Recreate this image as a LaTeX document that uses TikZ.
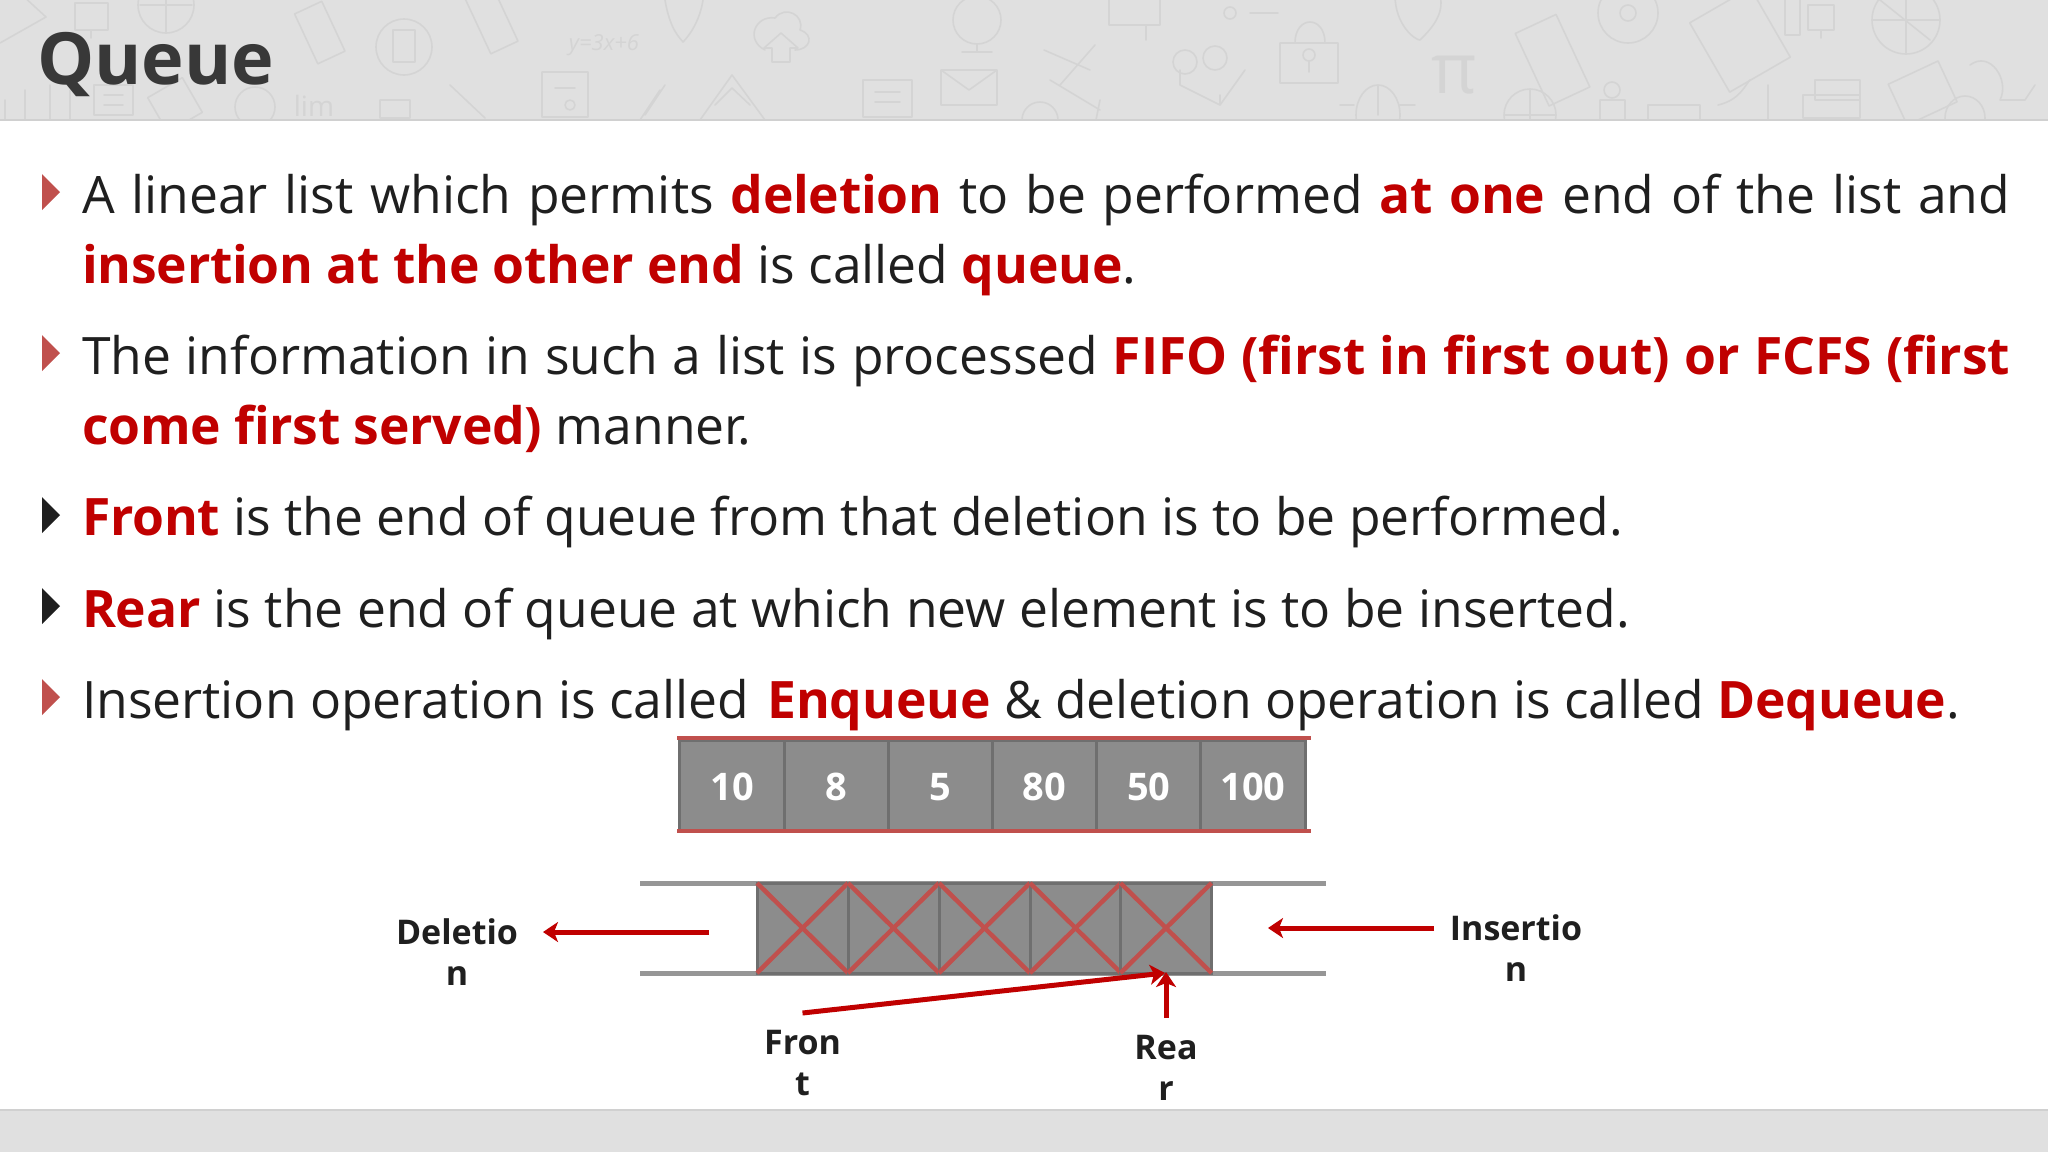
\documentclass[tikz,border=0pt]{standalone}
\usepackage{fontspec}
\setmainfont[BoldFeatures={LetterSpace=-0.4}]{Open Sans}
\newfontfamily\labfont{Open Sans}
\usetikzlibrary{arrows.meta}
\definecolor{hdr}{HTML}{E0E0E0}
\definecolor{hline}{HTML}{D0D0D0}
\definecolor{ink}{HTML}{1F1F1F}
\definecolor{ttl}{HTML}{383838}
\definecolor{rd}{HTML}{C00000}
\definecolor{softred}{HTML}{C0504D}
\definecolor{cell}{HTML}{8C8C8C}
\definecolor{celledge}{HTML}{6F6F6F}
\definecolor{rail}{HTML}{969696}
\definecolor{doodle}{HTML}{D4D4D4}
\newcommand{\rt}[1]{\textbf{\textcolor{rd}{#1}}}
\newcommand{\bodyfont}{\fontsize{51.6}{60}\selectfont}
\tikzset{
  x=1pt,y=-1pt,
  bodytext/.style={anchor=base west,inner sep=0pt,outer sep=0pt,text=ink,font=\bodyfont},
  bulletred/.style={fill=softred,draw=none},
  bulletdark/.style={fill=ink,draw=none},
  cellbox/.style={draw=celledge,line width=3pt,fill=cell,minimum width=104.2pt,minimum height=90pt,inner sep=0pt,outer sep=0pt,text=white,text height=30pt,text depth=0pt,font=\labfont\bfseries\fontsize{38}{40}\selectfont},
  xcell/.style={draw=celledge,line width=3pt,fill=cell,minimum width=91pt,minimum height=90pt,inner sep=0pt,outer sep=0pt},
  railline/.style={draw=rail,line width=5pt},
  redbar/.style={draw=softred,line width=4.5pt},
  crossline/.style={draw=softred,line width=4.5pt},
  arrowline/.style={draw=rd,line width=5pt,-{Stealth[length=15pt,width=20pt,inset=4pt]}},
  lab/.style={align=center,inner sep=0pt,outer sep=0pt,anchor=base,text=ink,font=\labfont\bfseries\fontsize{34}{41}\selectfont},
  dood/.style={draw=doodle,line width=1.6pt,line join=round,line cap=round},
  doodtext/.style={text=doodle,inner sep=0pt},
}
\begin{document}
\begin{tikzpicture}
\useasboundingbox (0,0) rectangle (2048,1152);
\fill[white] (0,0) rectangle (2048,1152);
% header and footer bands
\fill[hdr] (0,0) rectangle (2048,120);
% faint doodles of the header
\begin{scope}
\clip (0,0) rectangle (2048,119);
\draw[dood] (0,43) -- (46,17) -- (22,-5);
\draw[dood] (75,3) rectangle (108,30) (91,30) -- (91,38);
\draw[dood] (166,5) circle (28) (140,5) -- (192,5) (166,-23) -- (166,33);
\draw[dood,rotate around={25:(320,33)}] (305,5) rectangle (335,60);
\draw[dood] (404,47) circle (28); \draw[dood] (393,30) rectangle (415,62);
\draw[dood,rotate around={25:(493,23)}] (478,-12) rectangle (508,50);
\node[doodtext,font=\itshape\fontsize{22}{22}\selectfont] (eq) at (604,45) {y=3x+6};
\draw[dood] (665,0) .. controls (670,30) and (680,38) .. (683,42) .. controls (690,35) and (700,20) .. (703,0);
\draw[dood] (765,50) .. controls (745,40) and (755,15) .. (775,18) .. controls (785,5) and (805,15) .. (800,30) .. controls (815,35) and (810,50) .. (795,50);
\draw[dood] (772,62) -- (772,48) -- (764,48) -- (781,33) -- (798,48) -- (790,48) -- (790,62) -- cycle;
\draw[dood] (977,20) circle (24) (977,44) -- (977,52) (962,52) -- (992,52);
\draw[dood] (941,70) rectangle (997,105) (941,70) -- (969,90) -- (997,70);
\draw[dood] (863,80) rectangle (912,117) (875,92) -- (900,92) (875,102) -- (900,102);
\draw[dood] (542,72) rectangle (588,117) (555,88) -- (575,88) (570,105) circle (5);
\draw[dood] (700,120) -- (732,75) -- (765,120) (715,105) -- (732,88) -- (750,105);
\draw[dood] (94,85) rectangle (133,115) (104,95) -- (123,95) (104,105) -- (123,105);
\draw[dood] (255,107) circle (20);
\node[doodtext,font=\fontsize{28}{28}\selectfont] (lim) at (314,106) {lim};
\draw[dood] (5,120) -- (5,100) (25,120) -- (25,90) (50,120) -- (50,85) (70,120) -- (70,90);
\draw[dood,rotate around={30:(175,105)}] (155,85) rectangle (195,125);
\draw[dood] (380,100) rectangle (410,118) (450,85) -- (485,118);
\draw[dood] (640,120) -- (660,90) (665,85) -- (645,115);
% right half
\draw[dood] (1109,-5) -- (1109,25) -- (1160,25) -- (1160,-5) (1146,25) -- (1146,40);
\draw[dood] (1230,13) circle (6) (1250,13) -- (1278,13);
\draw[dood] (1044,50) -- (1090,70) (1095,45) -- (1060,85) (1100,100) -- (1090,150);
\draw[dood] (1280,83) rectangle (1338,43) (1295,43) .. controls (1295,15) and (1325,15) .. (1325,43) (1309,55) circle (6) (1309,61) -- (1309,72);
\draw[dood] (1185,62) circle (12) (1215,58) circle (12) (1180,85) -- (1220,105) -- (1245,70) (1180,85) -- (1180,70) (1220,105) -- (1220,95);
\node[doodtext,font=\fontsize{70}{70}\selectfont] (pi) at (1454,75) {π};
\draw[dood] (1378,115) ellipse (22 and 30) (1354,105) -- (1340,105) (1400,105) -- (1415,105) (1378,85) -- (1378,115);
\draw[dood] (1395,-5) .. controls (1395,25) and (1415,40) .. (1420,40) .. controls (1430,30) and (1445,15) .. (1440,-5);
\draw[dood,rotate around={25:(1553,60)}] (1530,20) rectangle (1575,100);
\draw[dood] (1628,13) circle (30) (1628,13) circle (8);
\draw[dood,rotate around={30:(1740,40)}] (1705,0) rectangle (1775,80);
\draw[dood] (1785,-5) rectangle (1800,35) (1808,5) rectangle (1834,30) (1821,30) -- (1821,38);
\draw[dood] (1906,20) circle (34) (1872,20) -- (1940,20) (1906,-14) -- (1906,54) (1880,0) -- (1930,40);
\draw[dood] (1530,115) circle (26) (1504,115) -- (1556,115) (1530,89) -- (1530,141);
\draw[dood] (1600,120) -- (1600,100) -- (1625,100) -- (1625,120) (1612,90) circle (8);
\draw[dood] (1648,120) -- (1648,105) -- (1700,105) -- (1700,120);
\draw[dood] (1718,105) .. controls (1740,100) and (1745,85) .. (1750,80) (1768,85) -- (1768,120);
\draw[dood] (1803,95) rectangle (1860,118) (1815,80) rectangle (1860,100);
\draw[dood,rotate around={25:(1935,90)}] (1895,65) rectangle (1950,110);
\draw[dood] (1970,65) .. controls (1990,50) and (2010,80) .. (2000,100) -- (2025,100) -- (2035,85);
\draw[dood] (1965,118) ellipse (20 and 22);
\draw[dood] (1040,120) circle (18) (1050,80) -- (1100,110);
\end{scope}
\draw[hline,line width=2.5pt] (0,120) -- (2048,120);
\fill[hdr] (0,1110) rectangle (2048,1152);
\draw[hline,line width=2pt] (0,1110) -- (2048,1110);
% title
\node[anchor=base west,inner sep=0pt,text=ttl,font=\labfont\bfseries\fontsize{72}{80}\selectfont] (title) at (37,84) {Queue};
% bullets
\fill[bulletred] (42,174) -- (60,192) -- (42,210) -- cycle;
\fill[bulletred] (42,335) -- (60,353) -- (42,371) -- cycle;
\fill[bulletdark] (42,497) -- (60,515) -- (42,533) -- cycle;
\fill[bulletdark] (42,588) -- (60,606) -- (42,624) -- cycle;
\fill[bulletred] (42,679) -- (60,697) -- (42,715) -- cycle;
% body text
\node[bodytext] (l1) at (82,213) {\makebox[1928pt][s]{A linear list which permits \rt{deletion} to be performed \rt{at one} end of the list and}};
\node[bodytext] (l2) at (82,283) {\rt{insertion at the other end} is called \rt{queue}.};
\node[bodytext] (l3) at (82,374) {\makebox[1928pt][s]{The information in such a list is processed \rt{FIFO (first in first out) or FCFS (first}}};
\node[bodytext] (l4) at (82,444) {\rt{come first served)} manner\kern-8pt.};
\node[bodytext] (l5) at (82,535) {\rt{Front} is the end of queue from that deletion is to be performed.};
\node[bodytext] (l6) at (82,627) {\rt{Rear} is the end of queue at which new element is to be inserted.};
\node[bodytext] (l7) at (82,718) {Insertion operation is called \kern5pt\rt{Enqueue} \& deletion operation is called \rt{Dequeue}.};
% upper queue
\node[cellbox] (c1) at (732,785) {10};
\node[cellbox] (c2) at (836.2,785) {8};
\node[cellbox] (c3) at (940.4,785) {5};
\node[cellbox] (c4) at (1044.6,785) {80};
\node[cellbox] (c5) at (1148.8,785) {50};
\node[cellbox] (c6) at (1253,785) {100};
\draw[redbar] (677,738) -- (1311,738);
\draw[redbar] (677,831) -- (1311,831);
% lower queue
\draw[railline] (640,883) -- (1326,883);
\draw[railline] (640,973) -- (1326,973);
\foreach \i/\cx in {1/802.5,2/893.5,3/984.5,4/1075.5,5/1166}{
  \node[xcell] (x\i) at (\cx,928) {};
  \draw[crossline] (x\i.north west) -- (x\i.south east);
  \draw[crossline] (x\i.north east) -- (x\i.south west);
}
% labels (anchor=base is the last line)
\node[lab] (del) at (457,985) {Deletio\\n};
\node[lab] (ins) at (1516,981) {Insertio\\n};
\node[lab] (fro) at (802.5,1095) {Fron\\t};
\node[lab] (rea) at (1166,1100) {Rea\\r};
% connectors
\coordinate (dels) at (709,932);
\coordinate (dele) at (543,932);
\coordinate (inss) at (1434,928);
\coordinate (inse) at (1268,928);
\coordinate (fros) at (802.5,1013);
\coordinate (froe) at (1165,973);
\coordinate (reas) at (1166,1018);
\coordinate (reae) at (1166,972);
\draw[arrowline] (dels) -- (dele);
\draw[arrowline] (inss) -- (inse);
\draw[arrowline] (fros) -- (froe);
\draw[arrowline] (reas) -- (reae);
\end{tikzpicture}
\end{document}
